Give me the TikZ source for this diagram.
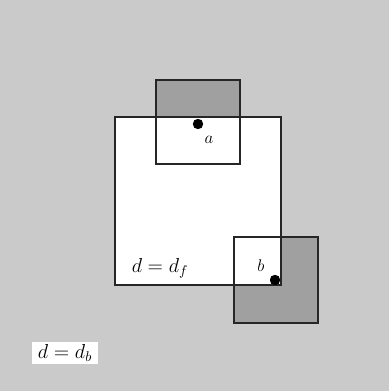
\documentclass[tikz,border=0pt]{standalone}
\usepackage{tikz}
\usetikzlibrary{positioning}
\definecolor{bggray}{RGB}{202,202,202}
\definecolor{boxgray}{RGB}{160,160,160}
\tikzset{every picture/.style={line width=0.9pt}}

\begin{document}
\begin{tikzpicture}[scale=1.0]
    % 背景
    \fill[bggray] (0,0) rectangle (9.725,9.775);
    \useasboundingbox (0,0) rectangle (9.725,9.775);

    % 两个小方块 (阴影部分)
    \fill[boxgray] (3.9,5.675) rectangle (6.0,7.775);
    \fill[boxgray] (5.85,1.7) rectangle (7.95,3.85);

    % 大方块
    \fill[white] (2.875,2.65) rectangle (7.025,6.85);

    % 边框
    \draw[black!85] (2.875,2.65) rectangle (7.025,6.85);
    \draw[black!85] (3.9,5.675) rectangle (6.0,7.775);
    \draw[black!85] (5.85,1.7) rectangle (7.95,3.85);

    % 点 a, b
    \fill (4.95,6.675) coordinate (a) circle (0.13);
    \fill (6.875,2.775) coordinate (b) circle (0.13);
    \node (la) at (5.225,6.275) {\large $a$};
    \node (lb) at (6.525,3.125) {\large $b$};

    % 标注
    \node (df) at (4.0,3.075) {\Large $d = d_f$};
    \node[fill=white, inner xsep=4pt, inner ysep=2pt] (db) at (1.625,0.95) {\Large $d = d_b$};
\end{tikzpicture}
\end{document}
